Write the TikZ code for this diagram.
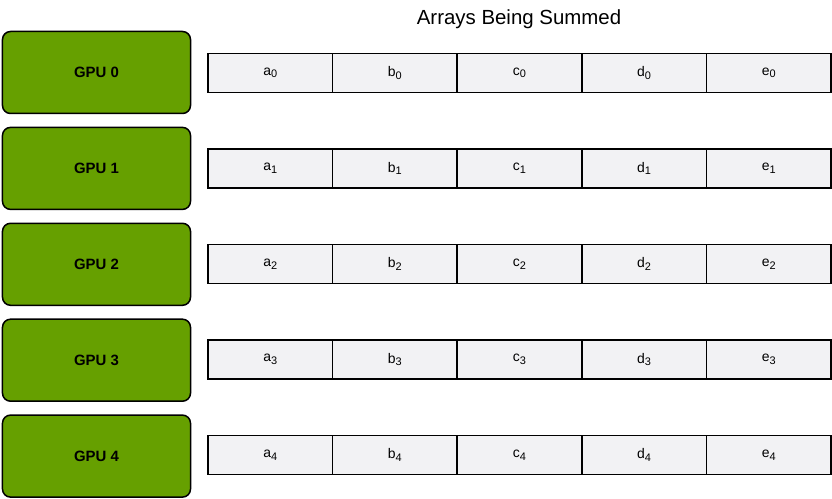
\documentclass[tikz,border=0pt]{standalone}
\usepackage{fontspec}
\setmainfont{Liberation Sans}
\usetikzlibrary{positioning}
\definecolor{gpugreen}{RGB}{102,160,0}
\definecolor{cellfill}{RGB}{242,242,244}
\newcommand{\idx}[1]{\raisebox{-0.35ex}{\fontsize{11}{13}\selectfont#1}}

\begin{document}
\begin{tikzpicture}[x=1bp,y=-1bp,
  gpubox/.style={draw=black,line width=1.5bp,fill=gpugreen,rounded corners=8bp,
    minimum width=188bp,minimum height=82bp,font=\fontsize{15}{18}\selectfont\bfseries},
  cellbox/.style={draw=black,line width=1.5bp,fill=cellfill,outer sep=0pt,
    minimum width=124.6bp,minimum height=39bp,font=\fontsize{14}{17}\selectfont},
  title/.style={font=\fontsize{20.5}{24}\selectfont}]
  \useasboundingbox (0,0) rectangle (832,499);
  % Title
  \node[title] (heading) at (519,19) {Arrays Being Summed};
  \foreach \i in {0,...,4}{
    % Node: gpu\i
    \node[gpubox] (gpu\i) at (96.5,{72.5+95.9*\i}) {GPU \i};
    % Array row \i
    \node[cellbox] (a\i) at (270.3,{73+95.5*\i}) {a\idx{\i}};
    \foreach \l [remember=\l as \p (initially a)] in {b,c,d,e}
      \node[cellbox,right=0pt of \p\i] (\l\i) {\l\idx{\i}};
  }
\end{tikzpicture}
\end{document}
